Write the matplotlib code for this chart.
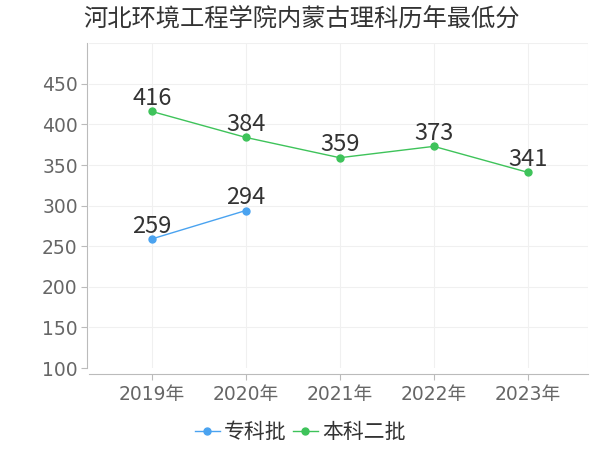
import matplotlib.pyplot as plt
import numpy as np

plt.rcParams["font.family"] = ["Noto Sans CJK SC", "DejaVu Sans"]

years = ["2019年", "2020年", "2021年", "2022年", "2023年"]
zhuanke = [259, 294]            # 专科批, only 2019-2020
benke2 = [416, 384, 359, 373, 341]  # 本科二批
yticks = [100, 150, 200, 250, 300, 350, 400, 450]

COLOR_ZK = "#4aa3f0"
COLOR_BK = "#3ec35a"
TICK_FONT = ["DejaVu Sans", "Noto Sans CJK SC"]

fig = plt.figure(figsize=(6, 4.5), dpi=100)
ax = fig.add_axes([0.148, 0.182, 0.832, 0.722])

# spines first: set_position resets the tick setup
for s in ["top", "right"]:
    ax.spines[s].set_visible(False)
ax.spines["left"].set_color("#bbbbbb")
ax.spines["bottom"].set_color("#bbbbbb")
ax.spines["bottom"].set_position(("outward", 4))
ax.spines["left"].set_position(("outward", 1))

x = np.arange(len(years))
ax.plot(x[:len(zhuanke)], zhuanke, color=COLOR_ZK, linewidth=1, marker="o",
        markersize=5, label="专科批")
ax.plot(x, benke2, color=COLOR_BK, linewidth=1, marker="o",
        markersize=5, label="本科二批")

for xs, vals in [(x[:len(zhuanke)], zhuanke), (x, benke2)]:
    for xi, v in zip(xs, vals):
        ax.annotate(str(v), (xi, v), xytext=(0, 1), textcoords="offset points",
                    ha="center", va="bottom", fontsize=17, color="#333333")

ax.set_xlim(-0.67, 4.64)
ax.set_ylim(100, 500)
ax.set_xticks(x)
ax.set_xticklabels(years, family=TICK_FONT)
ax.set_yticks(yticks)
ax.set_yticklabels([str(t) for t in yticks], family=TICK_FONT)
ax.tick_params(axis="y", length=4, color="#bbbbbb", pad=3,
               labelsize=13.5, labelcolor="#666666")
ax.tick_params(axis="x", length=4, color="#bbbbbb", pad=4,
               labelsize=13.5, labelcolor="#666666")

# light grid
for t in yticks[1:] + [500]:
    ax.axhline(t, color="#f0f0f0", linewidth=0.8, zorder=0)
for xi in list(x) + [4.64]:
    ax.axvline(xi, color="#f0f0f0", linewidth=0.8, zorder=0)

fig.text(0.138, 0.958, "河北环境工程学院内蒙古理科历年最低分", fontsize=17.5,
         color="#333333", ha="left", va="center")

ax.legend(loc="center", frameon=False, fontsize=15, ncol=2, handlelength=1.2,
          handletextpad=0.2, columnspacing=0.3, labelcolor="#333333")
leg = ax.get_legend()
leg.set_bbox_to_anchor((0.5, 1 - 432 / 450), transform=fig.transFigure)

fig.savefig("out.png", dpi=100)
